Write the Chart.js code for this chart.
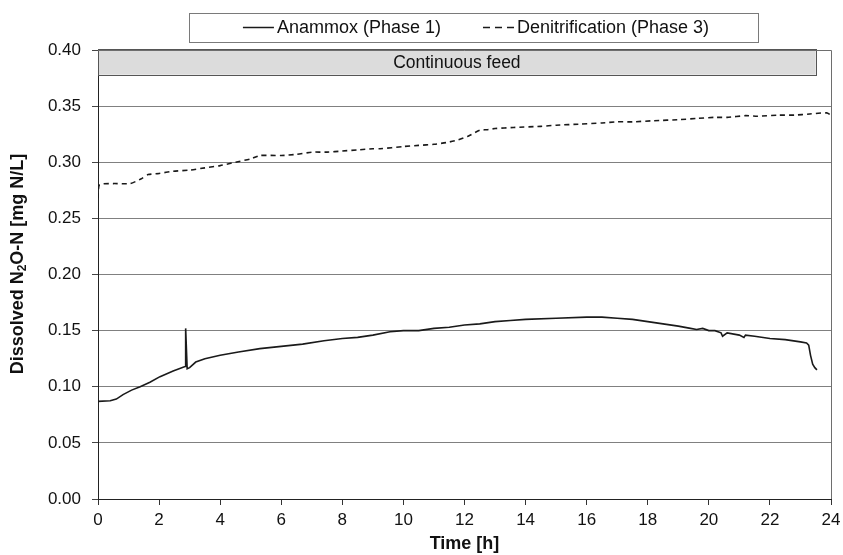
<!DOCTYPE html>
<html>
<head>
<meta charset="utf-8">
<title>Dissolved N2O-N</title>
<script src="https://cdn.jsdelivr.net/npm/chart.js@4.4.1/dist/chart.umd.min.js"></script>
<style>
  html, body { margin: 0; padding: 0; background: #fff; }
  #wrap { width: 843px; height: 555px; }
</style>
</head>
<body>
<div id="wrap"><canvas id="myChart" width="843" height="555"></canvas></div>
<script>
// time [h] and dissolved N2O-N [mg N/L] per phase
var anammoxTime = [0, 0.4, 0.6, 0.82, 1.1, 1.38, 1.7, 2.03, 2.46, 2.85, 2.87, 2.92, 3.0, 3.2, 3.5, 4.0, 4.6, 5.3, 6.0, 6.7, 7.4, 8.0, 8.5, 9.0, 9.56, 10.0, 10.5, 11.0, 11.5, 12.0, 12.5, 13.0, 13.5, 14.0, 15.0, 16.0, 16.5, 17.0, 17.5, 18.0, 18.5, 19.0, 19.4, 19.6, 19.8, 20.0, 20.2, 20.4, 20.45, 20.6, 21.0, 21.15, 21.2, 21.5, 22.0, 22.5, 23.0, 23.2, 23.27, 23.33, 23.4, 23.47, 23.54];
var anammoxN2O  = [0.087, 0.0875, 0.089, 0.093, 0.097, 0.100, 0.104, 0.109, 0.114, 0.118, 0.152, 0.116, 0.117, 0.122, 0.125, 0.128, 0.131, 0.134, 0.136, 0.138, 0.141, 0.143, 0.144, 0.146, 0.149, 0.150, 0.150, 0.152, 0.153, 0.155, 0.156, 0.158, 0.159, 0.160, 0.161, 0.162, 0.162, 0.161, 0.160, 0.158, 0.156, 0.154, 0.152, 0.151, 0.152, 0.150, 0.150, 0.148, 0.145, 0.148, 0.146, 0.144, 0.146, 0.145, 0.143, 0.142, 0.140, 0.139, 0.137, 0.128, 0.120, 0.117, 0.115];

var denitTime = [0, 0.05, 0.5, 1.05, 1.4, 1.64, 2.0, 2.46, 3.0, 3.5, 4.0, 4.5, 5.0, 5.3, 6.0, 6.5, 7.0, 7.5, 8.0, 8.5, 9.0, 9.23, 10.0, 10.5, 11.0, 11.4, 11.8, 12.1, 12.5, 12.73, 13.0, 13.6, 14.5, 15.0, 15.8, 16.5, 17.0, 17.5, 18.2, 19.06, 19.6, 20.2, 20.6, 21.2, 21.6, 22.3, 22.8, 23.3, 23.86, 24.0];
var denitN2O  = [0.268, 0.280, 0.281, 0.281, 0.285, 0.289, 0.290, 0.292, 0.293, 0.295, 0.297, 0.300, 0.303, 0.306, 0.306, 0.307, 0.309, 0.309, 0.310, 0.311, 0.312, 0.312, 0.314, 0.315, 0.316, 0.3175, 0.320, 0.323, 0.3285, 0.329, 0.330, 0.331, 0.332, 0.333, 0.334, 0.335, 0.336, 0.336, 0.337, 0.338, 0.339, 0.340, 0.340, 0.3415, 0.341, 0.342, 0.342, 0.343, 0.344, 0.342];

var xTicks = [0, 2, 4, 6, 8, 10, 12, 14, 16, 18, 20, 22, 24];
var yTicks = ['0.00', '0.05', '0.10', '0.15', '0.20', '0.25', '0.30', '0.35', '0.40'];

var feedLabel = 'Continuous feed';
var feedStart = 0;
var feedEnd = 23.5;

// y title pieces: text before the subscript, subscript, text after
var yTitle = ['Dissolved N', '2', 'O-N [mg N/L]'];

var FONT = '"Liberation Sans", Arial, sans-serif';

function toPoints(xs, ys) {
  return xs.map((x, i) => ({ x: x, y: ys[i] }));
}

// grey bar at the top of the plot with the feed mode
var feedBanner = {
  id: 'feedBanner',
  beforeDatasetsDraw(chart) {
    const ctx = chart.ctx;
    const xs = chart.scales.x, ys = chart.scales.y;
    const x0 = xs.getPixelForValue(feedStart);
    const x1 = xs.getPixelForValue(feedEnd);
    const y0 = ys.getPixelForValue(0.40);
    const y1 = ys.getPixelForValue(0.378);
    ctx.save();
    ctx.fillStyle = '#dcdcdc';
    ctx.fillRect(x0, y0, x1 - x0, y1 - y0);
    ctx.strokeStyle = '#555';
    ctx.lineWidth = 1;
    ctx.strokeRect(Math.round(x0) + 0.5, Math.round(y0) - 0.5, Math.round(x1 - x0), Math.round(y1 - y0) + 1);
    ctx.fillStyle = '#111';
    ctx.font = '17.5px ' + FONT;
    ctx.textAlign = 'center';
    ctx.textBaseline = 'middle';
    ctx.fillText(feedLabel, (x0 + x1) / 2, (y0 + y1) / 2 + 1);
    ctx.restore();
  },
  afterDraw(chart) {
    // frame on the top and right of the plot
    const a = chart.chartArea;
    const ctx = chart.ctx;
    ctx.save();
    ctx.strokeStyle = '#6e6e6e';
    ctx.lineWidth = 1;
    ctx.beginPath();
    ctx.moveTo(Math.round(a.left), Math.round(a.top) + 0.5);
    ctx.lineTo(Math.round(a.right) + 0.5, Math.round(a.top) + 0.5);
    ctx.lineTo(Math.round(a.right) + 0.5, Math.round(a.bottom));
    ctx.stroke();

    // rotated y title with subscript 2
    ctx.translate(18, 264);
    ctx.rotate(-Math.PI / 2);
    const big = 'bold 18px ' + FONT, small = 'bold 12px ' + FONT;
    ctx.font = big;
    const w0 = ctx.measureText(yTitle[0]).width;
    const w2 = ctx.measureText(yTitle[2]).width;
    ctx.font = small;
    const w1 = ctx.measureText(yTitle[1]).width;
    let x = -(w0 + w1 + w2) / 2;
    ctx.fillStyle = '#111';
    ctx.textBaseline = 'middle';
    ctx.textAlign = 'left';
    ctx.font = big;
    ctx.fillText(yTitle[0], x, 0);
    x += w0;
    ctx.font = small;
    ctx.fillText(yTitle[1], x, 5);
    x += w1;
    ctx.font = big;
    ctx.fillText(yTitle[2], x, 0);
    ctx.restore();
  }
};

// boxed legend centred above the plot
var boxLegend = {
  id: 'boxLegend',
  afterDraw(chart) {
    const ctx = chart.ctx;
    const sets = chart.data.datasets;
    const lineW = 31, gapText = 3, gapItem = 42;
    ctx.save();
    ctx.font = '18px ' + FONT;
    const widths = sets.map(d => lineW + gapText + ctx.measureText(d.label).width);
    const total = widths.reduce((a, b) => a + b, 0) + gapItem * (sets.length - 1);
    const cx = 476, cy = 27.5;
    const boxL = 189, boxR = 758, boxT = 13, boxB = 42;
    ctx.strokeStyle = '#7a7a7a';
    ctx.lineWidth = 1;
    ctx.strokeRect(boxL + 0.5, boxT + 0.5, boxR - boxL, boxB - boxT);
    let x = cx - total / 2;
    sets.forEach((d, i) => {
      ctx.strokeStyle = d.borderColor;
      ctx.lineWidth = 1.5;
      ctx.setLineDash(d.borderDash ? [7, 5] : []);
      ctx.beginPath();
      ctx.moveTo(x, cy);
      ctx.lineTo(x + lineW, cy);
      ctx.stroke();
      ctx.setLineDash([]);
      ctx.fillStyle = '#111';
      ctx.textAlign = 'left';
      ctx.textBaseline = 'middle';
      ctx.fillText(d.label, x + lineW + gapText, cy + 1);
      x += widths[i] + gapItem;
    });
    ctx.restore();
  }
};

var ctx = document.getElementById('myChart').getContext('2d');

var chart = new Chart(ctx, {
  type: 'line',
  data: {
    datasets: [{
      label: 'Anammox (Phase 1)',
      data: toPoints(anammoxTime, anammoxN2O),
      borderColor: '#1a1a1a',
      borderWidth: 1.6,
      pointRadius: 0,
      tension: 0,
      fill: false
    }, {
      label: 'Denitrification (Phase 3)',
      data: toPoints(denitTime, denitN2O),
      borderColor: '#1a1a1a',
      borderWidth: 1.6,
      borderDash: [5, 4],
      pointRadius: 0,
      tension: 0.2,
      fill: false
    }]
  },
  options: {
    responsive: false,
    animation: false,
    layout: { padding: { top: 50, right: 12, left: 6, bottom: 0 } },
    plugins: {
      legend: { display: false },
      tooltip: { enabled: false }
    },
    scales: {
      x: {
        type: 'linear',
        min: 0,
        max: 24,
        afterBuildTicks: (scale) => { scale.ticks = xTicks.map(v => ({ value: v })); },
        afterFit: (scale) => {
          scale.height = 56;
          // "24" may hang into the right margin
          scale.paddingLeft = 0;
          scale.paddingRight = 0;
        },
        grid: { drawOnChartArea: false, tickLength: 6, color: '#333', tickColor: '#333' },
        border: { color: '#222', width: 1 },
        ticks: { color: '#111', font: { family: FONT, size: 17 }, padding: 5, maxRotation: 0 },
        title: { display: true, text: 'Time [h]', color: '#111', font: { family: FONT, size: 18, weight: 'bold' }, padding: { top: 0, bottom: 0 } }
      },
      y: {
        min: 0,
        max: 0.4,
        afterBuildTicks: (scale) => { scale.ticks = yTicks.map(v => ({ value: parseFloat(v) })); },
        afterFit: (scale) => { scale.width = 92; },
        grid: { color: '#808080', tickLength: 6, tickColor: '#444', lineWidth: 1 },
        border: { color: '#222', width: 1 },
        ticks: {
          color: '#111',
          font: { family: FONT, size: 17 },
          padding: 11,
          callback: (v) => v.toFixed(2)
        },
        title: { display: false }
      }
    }
  },
  plugins: [feedBanner, boxLegend]
});
</script>
</body>
</html>
